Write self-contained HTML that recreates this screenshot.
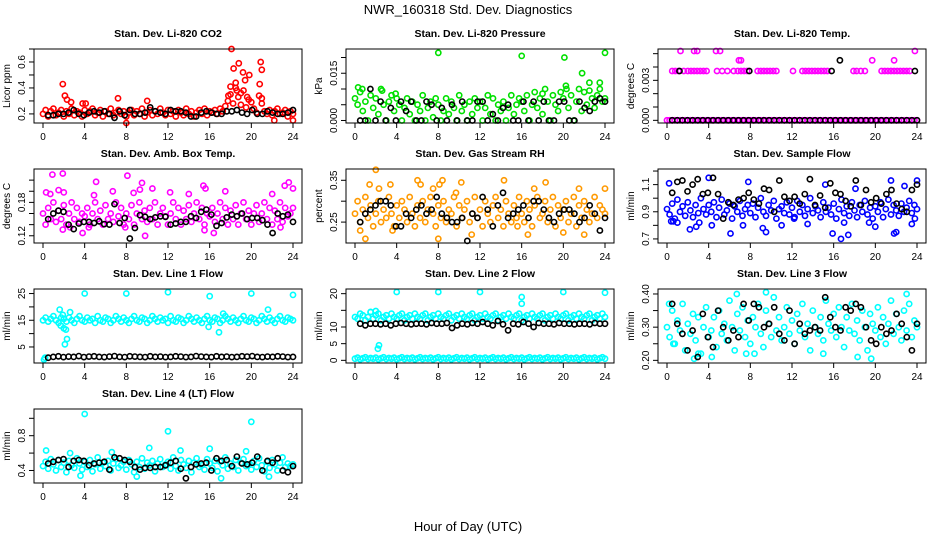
<!DOCTYPE html>
<html><head><meta charset="utf-8">
<style>
html,body{margin:0;padding:0;background:#fff;}
svg{display:block;font-family:"Liberation Sans",sans-serif;}
</style></head>
<body>
<svg id="fig" width="936" height="540" viewBox="0 0 936 540">
<text x="468" y="14" text-anchor="middle" font-size="13">NWR_160318 Std. Dev. Diagnostics</text>
<text x="468" y="531" text-anchor="middle" font-size="13">Hour of Day (UTC)</text>
</svg>
<script>
// ---- Panel 1: CO2 (x0.01 ppm)
const co2Col=[20,23,18,22,24,19,21,23,18,22,20,24,19,22,21,18,23,20,22,24,19,21,23,18,22,20,24,19,21,23,20,22,18,21,23,19,22,20,24,18,21,23,19,22,20,24,21,19,23,20,22,18,23,21,19,24,20,22,18,21,23,20,24,19,22,21,23,20,24,22,26,30,35,28,40,33,27,38,25,31,29,24,21,34,28,22,20,23,19,22,24,20,21,23,18,22,20];
const co2Extra=[[1.9,43],[2.1,34],[2.3,31],[2.7,29],[3.8,28],[4.1,28],[7.2,32],[10,30],[18.1,70],[18.3,55],[18.8,59],[19.2,52],[19.4,46],[19.8,50],[20.9,60],[21,54],[20.8,43],[18,41],[18.5,44],[19,36],[21,32],[8,13],[22.2,15],[24,15],[17.8,34],[18.6,38],[19.6,33]];
const co2Blk=[19,19,20,20,21,23,20,19,21,22,21,22,20,17,22,19,23,20,20,21,25,22,21,20,23,22,22,21,18,18,21,22,21,20,20,22,22,23,21,20,23,20,20,22,21,20,20,21,23];
// ---- Panel 2: Pressure (x0.001 kPa)
const presCol=[7,5,9,3,6,0,8,4,7,2,10,5,0,6,8,3,7,5,0,4,7,2,6,0,5,3,8,0,4,6,1,7,5,0,3,7,2,6,4,0,8,3,5,0,6,2,7,4,6,0,4,8,2,7,0,5,3,6,0,4,8,2,5,7,6,3,8,0,5,9,4,7,2,10,6,0,8,5,3,9,7,11,4,8,0,6,10,3,9,5,12,7,4,8,10,6,7];
const presExtra=[[8,21.5],[16,20.5],[20.1,20],[24,21.5],[21.8,15],[23.5,12],[0.3,10.5],[2.6,9.5],[0.7,10],[3.9,8.5],[18,8.5],[20.3,10],[22.5,9.5]];
const presBlk=[0,0,10,0,6,0,4,0,6,3,6,0,0,6,5,0,4,0,5,0,6,0,0,6,6,0,2,0,4,5,0,0,6,0,6,0,6,0,0,6,6,0,0,6,4,3,6,7,6];
// ---- Panel 3: Li-820 Temp (x0.001 C)
const tempCol=[0,0,0,0,0,0,0,0,0,0,0,0,0,0,0,0,0,0,0,0,0,0,0,0,0,0,0,0,0,0,0,0,0,0,0,0,0,0,0,0,0,0,0,0,0,0,0,0,0,0,0,0,0,0,0,0,0,0,0,0,0,0,0,0,0,0,0,0,0,0,0,0,0,0,0,0,0,0,0,0,0,0,0,0,0,0,0,0,0,0,0,0,0,0,0,0,0];
const tempExtra=[[0.5,3.7],[0.8,3.7],[1.1,3.7],[1.6,3.7],[2,3.7],[2.3,3.7],[2.6,3.7],[2.9,3.7],[3.2,3.7],[3.5,3.7],[3.8,3.7],[4.8,3.7],[5.3,3.7],[5.8,3.7],[6.4,3.7],[6.8,3.7],[7.1,3.7],[7.4,3.7],[7.7,3.7],[8.7,3.7],[9,3.7],[9.3,3.7],[9.6,3.7],[9.9,3.7],[10.2,3.7],[10.5,3.7],[12.1,3.7],[13,3.7],[13.3,3.7],[13.6,3.7],[13.9,3.7],[14.2,3.7],[14.5,3.7],[14.8,3.7],[15.1,3.7],[15.4,3.7],[17.9,3.7],[18.2,3.7],[18.6,3.7],[19,3.7],[20.6,3.7],[20.9,3.7],[21.2,3.7],[21.5,3.7],[21.8,3.7],[22.1,3.7],[22.4,3.7],[22.7,3.7],[23,3.7],[23.3,3.7],[1.3,5.2],[2.6,5.2],[2.9,5.2],[4.7,5.2],[5.1,5.2],[6.9,4.5],[7.1,4.5],[19.7,4.5],[21.8,4.5],[23.8,5.2]];
const tempBlk=[0,0,0,0,0,0,0,0,0,0,0,0,0,0,0,0,0,0,0,0,0,0,0,0,0,0,0,0,0,0,0,0,0,0,0,0,0,0,0,0,0,0,0,0,0,0,0,0,0];
const tempBlkExtra=[[1.2,3.7],[7.9,3.7],[15.8,3.7],[16.6,4.5],[23.8,3.7]];
// ---- Panel 4: Amb box temp (x0.01 C)
const ambCol=[16,14,17,15,18,14.5,16.5,15,17.5,14,16,18,15,17,14.5,16,15.5,17,14,16,18,15,16.5,14,17.5,15,16,14.5,18,15.5,17,14,16,15,17.5,14,16,18,15,16.5,14.5,17,15,18,14,16,17,15.5,14,16,18,15,17,14,16.5,15,17.5,14.5,16,18,15,17,14,16,15.5,17,14.5,16,18,15,17,14,16.5,15,17.5,14,16,18,15,16.5,14,16,17.5,14.5,16,18,15,17,14,16.5,15,18,14.5,17,15.5,16,17];
const ambExtra=[[0.3,19.8],[0.7,19.5],[0.9,23],[1.5,20.2],[1.9,23.2],[2,19.8],[3.8,12.5],[4.9,19.3],[5.1,21.7],[6.7,20],[8.1,22.8],[8.7,19.7],[9.3,20.3],[9.5,21.5],[9.8,12],[10.5,20.5],[12.2,19.8],[14,19.5],[15.4,21],[15.6,20.5],[15.5,13],[16.4,12.5],[17.5,20],[22,19.5],[23.2,21],[23.6,21.6],[24,20.5],[2.6,13.5],[4.4,13.5],[7.9,13.5],[22.8,13.5],[1.9,13.1]];
const ambBlk=[15,16,16.5,16.3,14,13.2,14.2,14.5,14.5,14.3,14.6,14.1,14,17.7,14.3,15.2,11.5,13.4,15.7,15.4,15,15.3,15.5,15.4,14,14.2,14.5,14.5,15.5,15.2,16.3,16.7,15.8,13.8,14.3,15.3,15.8,15.5,16,15,15.2,15.2,14.8,14,12.5,16,15.5,15.8,14.5];
// ---- Panel 5: RH (x0.01)
const rhCol=[27,30,25,28,31,26,29,24,27,30,25,28,26,31,27,24,29,26,30,28,25,31,27,24,29,26,30,25,28,31,27,24,29,26,30,25,28,27,31,24,29,26,28,30,25,27,31,26,28,24,30,27,25,29,31,26,28,24,30,27,25,29,26,31,27,25,30,28,24,29,31,26,27,30,25,28,31,24,29,26,28,30,25,27,31,24,29,26,30,28,25,27,31,26,29,28,27];
const rhExtra=[[0.5,23],[1,21],[1.4,34],[2,37.5],[2.3,33],[3.4,34],[3.6,23],[6,35],[6.3,34],[7.5,33],[8,21],[8.1,34],[8.4,35],[9.7,32],[10.2,34.5],[11.2,22],[14.3,35],[15.6,24],[16.6,22],[17.2,33],[18.3,34.5],[20,22.5],[21.5,33],[22,22],[24,33]];
const rhBlk=[25,27,28,29,30,30,29,24,24,27,26,28,29,27,28,31,27,26,25,25,26,20.5,27,26,31,28,24,29,32,26,27,28,29,26,30,30,28,26,25,27,28,28,27,25,26,29,27,23,26];
// ---- Panel 6: Sample flow (x0.01 ml/min)
const sfCol=[92,88,96,85,99,90,94,87,97,91,86,95,89,100,92,88,95,90,97,86,93,99,88,91,96,85,94,90,98,87,92,95,89,96,86,93,100,90,87,95,91,98,85,92,94,89,97,88,93,86,98,90,95,87,92,100,89,94,91,86,97,90,93,88,96,85,92,99,89,94,87,97,91,86,95,90,98,88,93,85,94,90,97,86,92,99,88,95,91,87,96,90,93,98,89,95,92];
const sfExtra=[[0.2,111],[0.4,83],[0.6,83],[1,82],[2.2,77],[2.8,79],[3.1,82],[4,115],[4.3,80],[6.1,74],[7.3,80],[7.8,112],[9.2,78],[9.5,75],[11,80],[12.2,85],[13.5,81],[15.2,110],[15.9,74],[16.7,70],[17,82],[17.4,73],[18.1,107],[19.4,82],[20,79],[21.5,113],[21.8,74],[22,75],[22.8,109],[23.5,81],[24,113],[23.8,85]];
const sfBlk=[104,112,113,105,110,114,103,104,115,103,85,97,95,99,100,104,99,96,107,106,90,113,101,98,101,96,103,114,95,102,93,111,104,103,98,94,113,95,106,97,100,96,103,106,96,92,90,106,110];
// ---- Panel 7: Line 1 flow
const l1Col=[15,16,14.5,15.5,16.5,15,14,16,15.5,14.5,16,15,14,15.5,16.5,15,14.5,16,15,15.5,14,16.5,15,14.5,16,15.5,14,15,16.5,15.5,14.5,16,15,14,15.5,16.5,15,14.5,16,15.5,14,15,16.5,15.5,14.5,16,15,15.5,14,16.5,15,14.5,16,15.5,14,15,16.5,15.5,14.5,16,15,14,15.5,16.5,15,14.5,16,15.5,14,15,16.5,15.5,14.5,16,15,14,15.5,16.5,15,14.5,16,15.5,14,15,16.5,15.5,14.5,16,15,14,15.5,16.5,15,14.5,16,15.5,15];
const l1Extra=[[4,25],[8,25],[12,25.5],[16,24],[20,25],[24,24.5],[1.6,19],[1.9,17],[1.7,13],[2,12],[2.2,11.5],[2.3,8],[2.1,6],[2.6,18],[15.9,12.5],[16.9,10.5],[17.3,17.5],[21.6,19],[0.1,0.3],[0.2,1]];
const l1Blk=[1.0,1.3,1.5,1.2,1.4,1.3,1.6,1.2,1.4,1.5,1.3,1.2,1.4,1.6,1.3,1.2,1.5,1.4,1.3,1.2,1.5,1.3,1.4,1.2,1.3,1.5,1.4,1.2,1.3,1.6,1.4,1.3,1.2,1.5,1.3,1.4,1.2,1.3,1.5,1.4,1.6,1.3,1.2,1.4,1.3,1.5,1.4,1.2,1.3];
// ---- Panel 8: Line 2 flow
const l2Col=[13,12.5,14,13.5,12,13,14.5,12.5,13.5,14,12,13,13.5,12.5,14,13,12.5,13.5,14,12,13,13.5,12.5,14,13,12.5,13.5,14,12,13,13.5,12.5,14,13,12.5,13.5,14,12,13,13.5,12.5,14,13,12.5,13.5,14,12,13,13.5,12.5,14,13,12.5,13.5,14,12,13,13.5,12.5,14,13,12.5,13.5,14,12,13,13.5,12.5,14,13,12.5,13.5,14,12,13,13.5,12.5,14,13,12.5,13.5,14,12,13,13.5,12.5,14,13,12.5,13.5,14,12,13,13.5,12.5,14,13];
const l2Low=[0.5,0.8,0.3,0.6,0.9,0.4,0.7,0.5,0.8,0.3,0.6,0.9,0.4,0.7,0.5,0.8,0.3,0.6,0.9,0.4,0.7,0.5,0.8,0.3,0.6,0.9,0.4,0.7,0.5,0.8,0.3,0.6,0.9,0.4,0.7,0.5,0.8,0.3,0.6,0.9,0.4,0.7,0.5,0.8,0.3,0.6,0.9,0.4,0.7,0.5,0.8,0.3,0.6,0.9,0.4,0.7,0.5,0.8,0.3,0.6,0.9,0.4,0.7,0.5,0.8,0.3,0.6,0.9,0.4,0.7,0.5,0.8,0.3,0.6,0.9,0.4,0.7,0.5,0.8,0.3,0.6,0.9,0.4,0.7,0.5,0.8,0.3,0.6,0.9,0.4,0.7,0.5,0.8,0.3,0.6,0.9,0.5];
const l2Extra=[[4,20.5],[8,20.5],[12,20.5],[20,20.5],[24,20.3],[16,19],[16,17],[2.2,3.5],[2.3,4.5],[1.5,14.5],[2,14.8]];
const l2Blk=[11,10.5,11,11,10.8,11,10.5,11,11.2,11,10.8,11,11,10.8,11.2,11,11,11.2,9.7,10.5,11,10.8,11.2,11,11.5,11,10.5,11.8,10.8,9,11,10.8,11.5,11,10,11.2,11,11,10.8,11.2,11,11,10.8,11,11,10.8,11.2,11,11];
// ---- Panel 9: Line 3 flow (x0.01)
const l3Col=[30,27,35,25,32,29,37,23,31,28,34,26,33,22,30,36,27,29,33,24,35,28,31,26,38,30,23,34,29,36,27,32,25,33,30,37,28,24,35,31,27,39,29,33,26,30,36,28,32,25,34,29,37,27,31,23,35,30,28,33,26,38,31,29,34,27,36,30,24,33,29,37,28,32,26,35,30,23,34,31,29,36,27,33,25,31,38,28,34,30,26,35,29,37,27,32,30];
const l3Extra=[[0.2,37],[0.6,25],[2.6,20.5],[3,22],[6.7,40],[9.5,40.5],[15,22],[23,40],[4.3,21],[7.6,22],[8.4,22],[18.3,21],[19.6,20.5]];
const l3Blk=[37,31,28,23,29,21,34,27,24,35,30,26,29,27,37,32,37,36,30,31,36,28,26,35,25,31,28,29,30,29,39,33,30,29,36,35,37,36,30,26,25,30,28,29,34,31,27,23,31];
// ---- Panel 10: Line 4 flow (x0.01)
const l4Col=[45,50,42,53,47,40,52,44,49,38,51,46,43,54,48,41,50,44,52,39,47,55,42,49,45,51,40,48,53,43,46,50,41,52,47,38,50,44,54,42,49,46,51,39,48,53,44,47,50,42,55,45,40,52,47,43,51,38,49,54,44,46,41,53,48,43,51,39,50,46,55,42,48,44,52,40,49,53,45,47,41,51,44,54,46,39,50,43,52,47,40,49,55,44,48,45,47];
const l4Extra=[[4,105],[12,85],[20,96],[0.3,63],[10.2,66],[13.2,63],[16,65],[19.5,62],[17.1,31],[21.7,33],[3.6,34],[9,33],[2.6,60],[6.6,61]];
const l4Blk=[48,50,52,53,44,51,52,51,46,48,49,50,41,55,54,52,50,44,41,43,43,44,44,46,49,51,42,31,44,47,48,49,40,54,51,52,45,56,48,47,49,56,40,51,49,54,40,38,45];

const xTicks=[0,4,8,12,16,20,24];

const panels=[
 {name:'co2',title:'Stan. Dev. Li-820 CO2',ylab:'Licor ppm',r:0,c:0,color:'#ff0000',col:co2Col,extra:co2Extra,blk:co2Blk,ylim:[13,70],yt:[20,30,40,50,60,70],yl:['0.2','','0.4','','0.6','']},
 {name:'pressure',title:'Stan. Dev. Li-820 Pressure',ylab:'kPa',r:0,c:1,color:'#00e000',col:presCol,extra:presExtra,blk:presBlk,ylim:[-0.8,22.7],yt:[0,5,10,15,20],yl:['0.000','','','0.015','']},
 {name:'li820-temp',title:'Stan. Dev. Li-820 Temp.',ylab:'degrees C',r:0,c:2,color:'#ff00ff',col:tempCol,extra:tempExtra,blk:tempBlk,blkExtra:tempBlkExtra,ylim:[-0.2,5.35],yt:[0,1,2,3,4,5],yl:['0.000','','','0.003','','']},
 {name:'amb-box-temp',title:'Stan. Dev. Amb. Box Temp.',ylab:'degrees C',r:1,c:0,color:'#ff00ff',col:ambCol,extra:ambExtra,blk:ambBlk,ylim:[10.7,24],yt:[12,14,16,18,20,22],yl:['0.12','','','0.18','','']},
 {name:'gas-stream-rh',title:'Stan. Dev. Gas Stream RH',ylab:'percent',r:1,c:1,color:'#ff9900',col:rhCol,extra:rhExtra,blk:rhBlk,ylim:[20,37.7],yt:[25,30,35],yl:['0.25','','0.35']},
 {name:'sample-flow',title:'Stan. Dev. Sample Flow',ylab:'ml/min',r:1,c:2,color:'#0000ff',col:sfCol,extra:sfExtra,blk:sfBlk,ylim:[67,121.5],yt:[70,80,90,100,110,120],yl:['0.7','','0.9','','1.1','']},
 {name:'line1-flow',title:'Stan. Dev. Line 1 Flow',ylab:'ml/min',r:2,c:0,color:'#00ffff',col:l1Col,extra:l1Extra,blk:l1Blk,ylim:[-1,26.7],yt:[5,10,15,20,25],yl:['5','','15','','25']},
 {name:'line2-flow',title:'Stan. Dev. Line 2 Flow',ylab:'ml/min',r:2,c:1,color:'#00ffff',col:l2Col,col2:l2Low,extra:l2Extra,blk:l2Blk,ylim:[-0.8,21.4],yt:[0,5,10,15,20],yl:['0','5','10','','20']},
 {name:'line3-flow',title:'Stan. Dev. Line 3 Flow',ylab:'ml/min',r:2,c:2,color:'#00ffff',col:l3Col,extra:l3Extra,blk:l3Blk,ylim:[19.2,41.5],yt:[20,25,30,35,40],yl:['0.20','','0.30','','0.40']},
 {name:'line4-flow',title:'Stan. Dev. Line 4 (LT) Flow',ylab:'ml/min',r:3,c:0,color:'#00ffff',col:l4Col,extra:l4Extra,blk:l4Blk,ylim:[25.6,110.7],yt:[40,60,80,100],yl:['0.4','','0.8','']}
];

const NS='http://www.w3.org/2000/svg';
const fig=document.getElementById('fig');
function mk(tag,attrs,parent){const e=document.createElementNS(NS,tag);for(const k in attrs)e.setAttribute(k,attrs[k]);parent.appendChild(e);return e;}

panels.forEach(p=>{
  const L=34+p.c*312, T=49+p.r*120, W=268, H=74;
  const g=mk('g',{},fig);
  
  
  const xs=h=>L+9+h*(W-18)/24;
  const ys=v=>T+H-(v-p.ylim[0])/(p.ylim[1]-p.ylim[0])*H;
  const t=mk('text',{x:L+W/2,y:T-12,'text-anchor':'middle','font-size':'10.5','font-weight':'bold'},g);
  t.textContent=p.title;
  
  
  const pts=mk('g',{fill:'none','stroke-width':'1.6'},g);
  
  
  function dot(h,v,color,nm){
    const c=mk('circle',{cx:xs(h).toFixed(1),cy:ys(v).toFixed(1),r:'2.6',stroke:color},pts);
    
    
  }
  const n=p.col.length;
  p.col.forEach((v,i)=>dot(i*24/(n-1),v,p.color,'point'));
  if(p.col2){const n2=p.col2.length;p.col2.forEach((v,i)=>dot(i*24/(n2-1),v,p.color,'point'));}
  p.extra.forEach(d=>dot(d[0],d[1],p.color,'outlier-point'));
  const nb=p.blk.length;
  p.blk.forEach((v,i)=>dot(0.5+i*23.5/(nb-1),v,'#000','hourly-point'));
  if(p.blkExtra)p.blkExtra.forEach(d=>dot(d[0],d[1],'#000','hourly-point'));
  const box=mk('rect',{x:L,y:T,width:W,height:H,fill:'none',stroke:'#000','stroke-width':'1'},g);
  
  
  const xa=mk('g',{},g);
  
  
  mk('line',{x1:xs(0),x2:xs(24),y1:T+H,y2:T+H,stroke:'#000'},xa);
  xTicks.forEach(h=>{
    mk('line',{x1:xs(h),x2:xs(h),y1:T+H,y2:T+H+5,stroke:'#000'},xa);
    const tx=mk('text',{x:xs(h),y:T+H+17,'text-anchor':'middle','font-size':'10'},xa);
    tx.textContent=h;
    
    
  });
  const ya=mk('g',{},g);
  
  
  mk('line',{x1:L,x2:L,y1:ys(p.yt[0]),y2:ys(p.yt[p.yt.length-1]),stroke:'#000'},ya);
  p.yt.forEach((v,i)=>{
    const y=ys(v);
    mk('line',{x1:L-5,x2:L,y1:y,y2:y,stroke:'#000'},ya);
    if(p.yl[i]){
      const tx=mk('text',{x:L-9,y:y,'text-anchor':'middle','font-size':'10',transform:`rotate(-90 ${L-9} ${y})`},ya);
      tx.textContent=p.yl[i];
      
      
    }
  });
  const yl=mk('text',{x:L-24,y:T+H/2,'text-anchor':'middle','font-size':'10',transform:`rotate(-90 ${L-24} ${T+H/2})`},g);
  yl.textContent=p.ylab;
  
  
});
</script>
</body></html>
